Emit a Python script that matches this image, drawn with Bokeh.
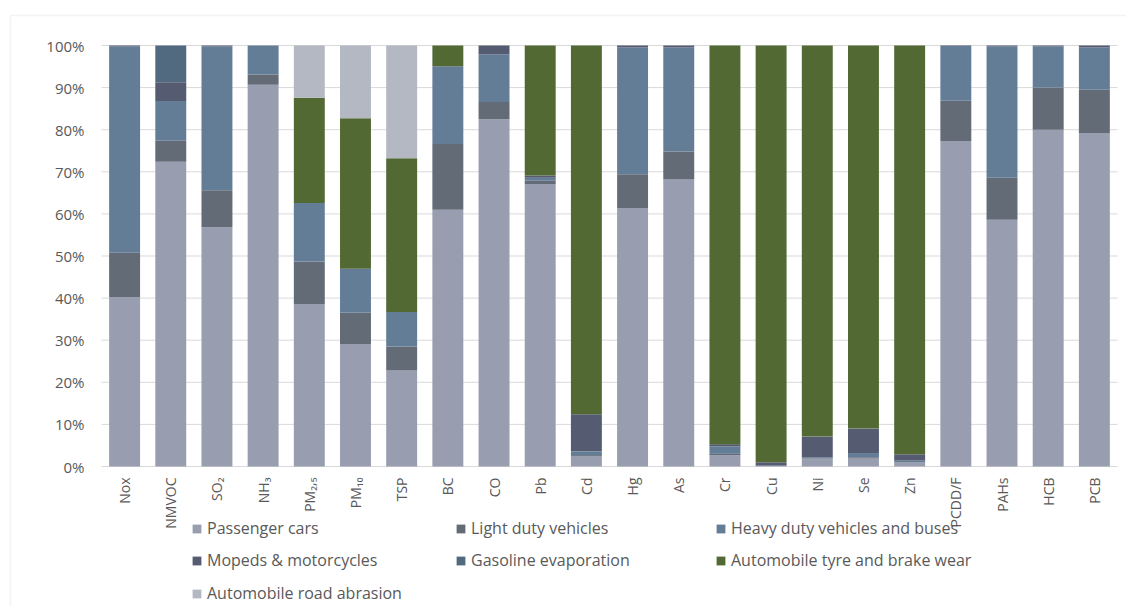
import math
from bokeh.plotting import figure
from bokeh.models import (ColumnDataSource, Legend, LegendItem, Range1d, BoxAnnotation)
from bokeh.core.properties import value
from bokeh.embed import file_html
from bokeh.resources import INLINE

categories = ["Nox", "NMVOC", "SO₂", "NH₃", "PM₂,₅", "PM₁₀", "TSP", "BC", "CO", "Pb", "Cd",
              "Hg", "As", "Cr", "Cu", "Ni", "Se", "Zn", "PCDD/F", "PAHs", "HCB", "PCB"]

passenger_cars = [40.2, 72.4, 56.8, 90.7, 38.6, 29.1, 22.8, 61.0, 82.5, 67.1, 2.4,
                  61.4, 68.2, 2.7, 0.2, 1.7, 1.9, 0.9, 77.3, 58.6, 80.0, 79.2]
light_duty = [10.6, 5.0, 8.8, 2.4, 10.1, 7.4, 5.7, 15.6, 4.1, 0.8, 0.3,
              8.0, 6.6, 0.3, 0.0, 0.2, 0.3, 0.1, 9.6, 10.0, 10.0, 10.3]
heavy_duty = [49.0, 9.4, 34.2, 6.9, 13.9, 10.5, 8.2, 18.5, 11.3, 0.7, 0.9,
              30.1, 24.7, 1.8, 0.0, 0.3, 1.0, 0.4, 13.0, 31.2, 9.8, 10.0]
mopeds = [0.2, 4.5, 0.2, 0.0, 0.0, 0.0, 0.0, 0.0, 2.1, 0.5, 8.8,
          0.5, 0.5, 0.5, 0.8, 4.9, 5.8, 1.5, 0.1, 0.2, 0.2, 0.5]
gasoline_evap = [0.0, 8.7, 0.0, 0.0, 0.0, 0.0, 0.0, 0.0, 0.0, 0.0, 0.0,
                 0.0, 0.0, 0.0, 0.0, 0.0, 0.0, 0.0, 0.0, 0.0, 0.0, 0.0]
tyre_brake = [0.0, 0.0, 0.0, 0.0, 25.0, 35.7, 36.5, 4.9, 0.0, 30.9, 87.6,
              0.0, 0.0, 94.7, 99.0, 92.9, 91.0, 97.1, 0.0, 0.0, 0.0, 0.0]
road_abrasion = [0.0, 0.0, 0.0, 0.0, 12.4, 17.3, 26.8, 0.0, 0.0, 0.0, 0.0,
                 0.0, 0.0, 0.0, 0.0, 0.0, 0.0, 0.0, 0.0, 0.0, 0.0, 0.0]

series_keys = ["pc", "ld", "hd", "mo", "ge", "ty", "ra"]
series_labels = ["Passenger cars", "Light duty vehicles", "Heavy duty vehicles and buses",
                 "Mopeds & motorcycles", "Gasoline evaporation",
                 "Automobile tyre and brake wear", "Automobile road abrasion"]
colors = ["#989eb0", "#626b76", "#647d96", "#555b70", "#526a80", "#526934", "#b4b8c2"]
y_ticks = [0, 10, 20, 30, 40, 50, 60, 70, 80, 90, 100]
y_tick_labels = ["0%", "10%", "20%", "30%", "40%", "50%", "60%", "70%", "80%", "90%", "100%"]

TEXT = "#595959"
GRID = "#d9d9d9"

W, H = 1126, 606
n = len(categories)
xpos = list(range(n))

source = ColumnDataSource(dict(x=xpos, cat=categories, pc=passenger_cars, ld=light_duty,
                               hd=heavy_duty, mo=mopeds, ge=gasoline_evap,
                               ty=tyre_brake, ra=road_abrasion))

# plot area: category band edges at -0.5 .. n-0.5 ; 0%..100%
px_per_cat = 46.18
px_per_pct = 4.21
left_px, zero_px, top_px = 101.0, 466.0, 45.0
x_start = -0.5 - left_px / px_per_cat
x_end = x_start + W / px_per_cat
y_end = 100 + top_px / px_per_pct
y_start = -(H - zero_px) / px_per_pct

p = figure(width=W, height=H, x_range=Range1d(x_start, x_end),
           y_range=Range1d(y_start, y_end), x_axis_type=None, y_axis_type=None,
           output_backend="svg", toolbar_location=None, min_border=0)
p.outline_line_color = None
p.background_fill_color = "white"
p.border_fill_color = "white"

# horizontal gridlines
p.segment(x0=[-0.5] * len(y_ticks), y0=y_ticks, x1=[n - 0.5] * len(y_ticks), y1=y_ticks,
          line_color=GRID, line_width=1)

renderers = p.vbar_stack(series_keys, x="x", width=0.67, color=colors,
                         line_color=None, source=source)

# y tick labels
p.text(x=[-0.5] * len(y_ticks), y=y_ticks, text=y_tick_labels, x_offset=-17,
       text_align="right", text_baseline="middle", text_font=value("Open Sans"),
       text_font_size="15px", text_color=TEXT)

# x category labels (rotated)
p.text(x="x", y=0, text="cat", source=ColumnDataSource(dict(x=xpos, cat=categories)),
       angle=math.pi / 2, y_offset=11, text_align="right", text_baseline="middle",
       text_font=value("Open Sans"), text_font_size="14px", text_color=TEXT)

# chart-area border (top and left edges)
p.add_layout(BoxAnnotation(left=10, right=5000, top=H - 15, bottom=-5000,
                           left_units="screen", right_units="screen",
                           top_units="screen", bottom_units="screen",
                           fill_alpha=0, line_color=GRID, line_width=1.5))

col_x = [191, 455, 715]
row_y = [67, 35, 2]
for i, (r, lab) in enumerate(zip(renderers, series_labels)):
    lg = Legend(items=[LegendItem(label=lab, renderers=[r])],
                location=(col_x[i % 3], row_y[i // 3]),
                padding=0, margin=0, spacing=0, border_line_alpha=0,
                background_fill_alpha=0, glyph_width=11, glyph_height=11,
                label_standoff=5, label_text_font="Open Sans",
                label_text_font_size="16px", label_text_color=TEXT,
                label_height=11)
    p.add_layout(lg, "center")

open("out.html", "w").write(file_html(p, INLINE))
